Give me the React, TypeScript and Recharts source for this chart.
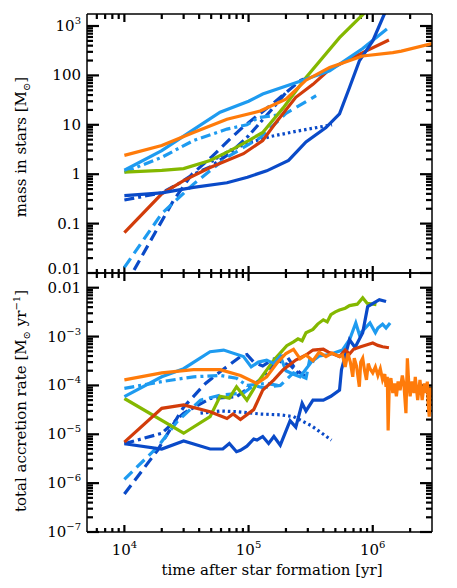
import React from "react";
import { LineChart, Line, XAxis, YAxis, ReferenceLine } from "recharts";

type Pair = [number, number];

// colours of the runs
const darkBlue = "#0a4ac8";
const lightBlue = "#1e9bf0";
const green = "#84b800";
const red = "#d23c0a";
const orange = "#ff7b0a";

// ---- top panel: mass in stars [Msun] vs time [yr]
const orangeMass: Pair[] = [[1e4, 2.4], [2e4, 3.8], [3.6e4, 7], [6.7e4, 13], [1.24e5, 19], [2e5, 33], [2.9e5, 80], [4.5e5, 145], [8.3e5, 247], [1.45e6, 290], [1.7e6, 310], [3e6, 440]];
const lightBlueMass: Pair[] = [[1e4, 1.2], [2e4, 3], [3.6e4, 8], [5.9e4, 18], [1e5, 30], [1.3e5, 42], [2.4e5, 71], [4.5e5, 124], [8.3e5, 350], [1.3e6, 870]];
const greenMass: Pair[] = [[1e4, 1.1], [2e4, 1.2], [3e4, 1.3], [4.9e4, 1.9], [7.1e4, 3], [1e5, 4.8], [1.3e5, 7], [1.9e5, 22], [2.9e5, 91], [5.4e5, 580], [8.5e5, 1800], [9e5, 2200]];
const redMass: Pair[] = [[1e4, 0.066], [2e4, 0.4], [3e4, 0.74], [4.9e4, 1.37], [9.1e4, 2.6], [1.3e5, 4.8], [1.7e5, 12], [2.4e5, 36], [3.3e5, 66], [4.5e5, 133], [8.3e5, 290], [1.35e6, 520]];
const darkBlueMass: Pair[] = [[1e4, 0.37], [2e4, 0.42], [3.6e4, 0.54], [6.7e4, 0.67], [9.8e4, 0.87], [1.4e5, 1.17], [2.1e5, 1.9], [2.9e5, 4.5], [4.2e5, 8.8], [5.4e5, 16.7], [6.5e5, 57], [7.8e5, 196], [1e6, 500], [1.24e6, 1750], [1.3e6, 2200]];
const darkBlueDashedMass: Pair[] = [[1e4, 0.006], [1.17e4, 0.0104], [1.74e4, 0.061], [2.5e4, 0.3], [3.5e4, 1.0], [5e4, 2.2], [7e4, 5], [9e4, 9], [1.6e5, 28], [2.6e5, 78], [2.8e5, 85]];
const darkBlueDashDotMass: Pair[] = [[1e4, 0.3], [2e4, 0.42], [2.7e4, 0.63], [3.6e4, 1.0], [4.9e4, 1.4], [7e4, 2.6], [1e5, 6], [1.5e5, 19], [2e5, 45]];
const darkBlueDottedMass: Pair[] = [[5e4, 1.8], [7e4, 3], [1e5, 4.3], [1.5e5, 5.8], [2.5e5, 7.5], [4.7e5, 10]];
const lightBlueDashedMass: Pair[] = [[1e4, 0.013], [2e4, 0.16], [3.6e4, 0.63], [6.7e4, 2.2], [1.24e5, 5.5], [2e5, 17], [3.5e5, 39]];
const lightBlueDashDotMass: Pair[] = [[1e4, 1.1], [2e4, 2.2], [3.6e4, 4.8], [6.7e4, 8.2], [9.7e4, 10], [1.2e5, 14], [1.8e5, 16]];

// ---- bottom panel: total accretion rate [Msun/yr] vs time [yr]
const orangeRate: Pair[] = [[1e4, 1.3e-4], [2e4, 1.8e-4], [3.6e4, 2.1e-4], [5.9e4, 2.1e-4], [8.6e4, 1.6e-4], [1.17e5, 1.1e-4], [1.4e5, 1.5e-4], [1.7e5, 2.9e-4], [2e5, 4.5e-4], [2.3e5, 5.5e-4], [2.6e5, 3.5e-4], [2.9e5, 4.2e-4], [3.3e5, 3.2e-4], [3.7e5, 4.8e-4], [4.2e5, 3.9e-4], [4.7e5, 4.6e-4], [5.4e5, 3.9e-4], [5.7e5, 4.2e-4], [6e5, 2.4e-4], [6.3e5, 4.5e-4], [6.6e5, 3e-4], [6.9e5, 1.5e-4], [7.1e5, 3.6e-4], [7.4e5, 2.5e-4], [7.8e5, 9.4e-5], [8e5, 3e-4], [8.3e5, 3.6e-4], [8.6e5, 2e-4], [8.9e5, 1.3e-4], [9.2e5, 2.8e-4], [9.5e5, 2.2e-4], [1e6, 1.8e-4], [1.05e6, 2.4e-4], [1.1e6, 1.6e-4], [1.15e6, 2.2e-4], [1.2e6, 1.3e-4], [1.25e6, 1.7e-4], [1.28e6, 9.4e-5], [1.31e6, 1.5e-4], [1.33e6, 1.2e-5], [1.36e6, 1.1e-4], [1.4e6, 1.4e-4], [1.45e6, 7e-5], [1.5e6, 1.1e-4], [1.55e6, 6e-5], [1.6e6, 1.2e-4], [1.66e6, 8e-5], [1.73e6, 1.6e-4], [1.78e6, 1.1e-4], [1.85e6, 2.7e-5], [1.9e6, 3.6e-4], [1.95e6, 1.1e-4], [2e6, 6e-5], [2.07e6, 1.2e-4], [2.15e6, 7e-5], [2.2e6, 1.5e-4], [2.3e6, 5e-5], [2.4e6, 1.3e-4], [2.5e6, 5e-5], [2.6e6, 1.1e-4], [2.7e6, 7e-5], [2.75e6, 1.2e-4], [2.8e6, 4e-5], [2.85e6, 2.3e-5], [2.92e6, 9e-5], [3e6, 6.3e-5]];
const lightBlueRate: Pair[] = [[1e4, 5.9e-5], [2e4, 1.5e-4], [3e4, 2.2e-4], [4.9e4, 4.9e-4], [6.3e4, 5.3e-4], [9.1e4, 3.9e-4], [1.05e5, 2.4e-4], [1.2e5, 3e-4], [1.4e5, 3.3e-4], [1.6e5, 2.8e-4], [1.8e5, 4e-4], [2e5, 2e-4], [2.3e5, 1.7e-4], [2.6e5, 1.5e-4], [3.2e5, 3e-4], [3.7e5, 4e-4], [4.5e5, 4.3e-4], [5.7e5, 5.3e-4], [6.5e5, 8.6e-4], [7.3e5, 1.9e-3], [7.8e5, 1.1e-3], [8.5e5, 1.4e-3], [9.5e5, 1.9e-3], [1.05e6, 1.2e-3], [1.1e6, 1.5e-3], [1.2e6, 1.8e-3], [1.28e6, 1.5e-3], [1.38e6, 1.9e-3]];
const greenRate: Pair[] = [[1e4, 5.4e-5], [3e4, 1.05e-5], [4.9e4, 2.3e-5], [5.9e4, 6e-5], [7e4, 5.5e-5], [8e4, 9.4e-5], [9.7e4, 5e-5], [1.17e5, 1.1e-4], [1.6e5, 3.3e-4], [2.03e5, 6.5e-4], [2.3e5, 7.8e-4], [2.5e5, 9e-4], [2.7e5, 8.2e-4], [2.9e5, 1.2e-3], [3.3e5, 1.4e-3], [3.6e5, 1.8e-3], [4e5, 2.2e-3], [4.3e5, 2e-3], [4.6e5, 2.8e-3], [5e5, 3.2e-3], [5.4e5, 3.5e-3], [6e5, 3.8e-3], [6.5e5, 4.3e-3], [7.5e5, 4.6e-3], [8.3e5, 6.2e-3], [9e5, 4.8e-3], [1.07e6, 4.5e-3]];
const redRate: Pair[] = [[1e4, 6.9e-6], [2e4, 3.4e-5], [3e4, 4e-5], [4.9e4, 2.9e-5], [6.7e4, 2.1e-5], [7.5e4, 2.6e-5], [8.6e4, 2e-5], [1.1e5, 3.2e-5], [1.3e5, 8e-5], [1.6e5, 1.3e-4], [1.9e5, 2.1e-4], [2.4e5, 3.3e-4], [2.9e5, 4.2e-4], [3.3e5, 5.3e-4], [4e5, 5.5e-4], [4.4e5, 4.8e-4], [4.7e5, 4.5e-4], [5.4e5, 3.9e-4], [6e5, 5.3e-4], [6.5e5, 4.4e-4], [7e5, 5.5e-4], [8e5, 6.2e-4], [9e5, 6.8e-4], [1e6, 7.4e-4], [1.1e6, 6.6e-4], [1.2e6, 6.2e-4], [1.35e6, 5.9e-4]];
const darkBlueRate: Pair[] = [[1e4, 6.4e-6], [2e4, 5e-6], [3e4, 7.3e-6], [4.9e4, 5e-6], [6.2e4, 5e-6], [7e4, 6.5e-6], [8e4, 4.4e-6], [8.6e4, 4.7e-6], [9.7e4, 5.7e-6], [1.1e5, 8e-6], [1.17e5, 7.6e-6], [1.3e5, 9e-6], [1.45e5, 6.5e-6], [1.6e5, 9e-6], [1.8e5, 6e-6], [2.16e5, 1.9e-5], [2.4e5, 1.4e-5], [2.7e5, 4.3e-5], [2.9e5, 3e-5], [3.3e5, 5e-5], [4e5, 5e-5], [4.6e5, 6e-5], [5.4e5, 8e-5], [5.6e5, 2.1e-4], [6.5e5, 8.6e-4], [7.2e5, 6e-4], [8.3e5, 1.2e-3], [9.1e5, 4.1e-3], [1.13e6, 5.7e-3], [1.28e6, 5.2e-3]];
const darkBlueDashedRate: Pair[] = [[1e4, 6e-7], [1.85e4, 4.7e-6], [3e4, 3.6e-5], [4.5e4, 1.1e-4], [5.9e4, 1.9e-4], [8.6e4, 3.9e-4], [9.7e4, 4.3e-4], [1.1e5, 3e-4], [1.3e5, 2.5e-4], [1.6e5, 3.5e-4], [2e5, 4.2e-4], [2.4e5, 2.1e-4], [2.9e5, 1.5e-4]];
const darkBlueDashDotRate: Pair[] = [[1e4, 6.4e-6], [2e4, 1.05e-5], [3e4, 2.7e-5], [4.9e4, 5.4e-5], [8e4, 5.9e-5], [1.24e5, 1.3e-4], [1.7e5, 3.3e-4], [2.2e5, 2.5e-4], [2.6e5, 1.6e-4]];
const darkBlueDottedRate: Pair[] = [[4.1e4, 2.7e-5], [6e4, 3e-5], [8e4, 2.9e-5], [1.24e5, 2.6e-5], [1.8e5, 2.5e-5], [2.3e5, 2.3e-5], [3.2e5, 1.5e-5], [4.65e5, 7.6e-6]];
const lightBlueDashedRate: Pair[] = [[1e4, 1.2e-6], [1.85e4, 5.5e-6], [2.7e4, 1.9e-5], [4.1e4, 5e-5], [5.9e4, 6.3e-5], [9.1e4, 7e-5], [1.1e5, 1e-4], [1.3e5, 9e-5], [1.8e5, 1e-4], [2.3e5, 1.8e-4], [2.9e5, 1.4e-4], [3.1e5, 3.3e-4], [3.5e5, 3e-4]];
const lightBlueDashDotRate: Pair[] = [[1e4, 8.7e-5], [2e4, 1.2e-4], [3.6e4, 1.5e-4], [5.9e4, 1.6e-4], [8e4, 1.4e-4], [9.7e4, 1e-4], [1.4e5, 1.1e-4], [1.8e5, 9.8e-5]];

const xDomain = [5e3, 3e6];
const massDomain = [0.01, 1750];
const rateDomain = [1e-7, 0.02];

// plot box size in px (same for both panels)
const PLOT_W = 345;
const PLOT_H = 259;

// log axis ticks: decades plus the 2..9 minor marks
const logTicks = (lo: number, hi: number) => {
  const out: number[] = [];
  for (let e = Math.floor(Math.log10(lo)); e <= Math.ceil(Math.log10(hi)); e++) {
    for (let m = 1; m < 10; m++) {
      const v = Number((m * Math.pow(10, e)).toPrecision(6));
      if (v >= lo && v < hi) out.push(v);
    }
  }
  return out;
};
const isMajor = (v: number) => Math.abs(Math.log10(v) - Math.round(Math.log10(v))) < 1e-6;

const xTicks = logTicks(xDomain[0], xDomain[1]).filter((v) => v > xDomain[0]);
const massTicks = logTicks(massDomain[0], massDomain[1]);
const rateTicks = logTicks(rateDomain[0], rateDomain[1]);

const pts = (a: Pair[]) => a.map(([t, v]) => ({ t, v }));

const FONT = "DejaVu Serif";

const pow10 = (e: number) => (
  <>
    <tspan>10</tspan>
    <tspan dy={-7} fontSize={10}>{e < 0 ? "\u2212" + -e : String(e)}</tspan>
  </>
);

const massLabel = (v: number) => (v >= 1000 ? pow10(3) : String(v));
const rateLabel = (v: number) => (v >= 0.01 ? "0.01" : pow10(Math.round(Math.log10(v))));

const leftLabel = (fmt: (v: number) => React.ReactNode, lowShift: number, low: number) => (p: any) => {
  const v = p.payload.value;
  if (!isMajor(v)) return <g />;
  return (
    <text x={p.x - 6} y={p.y + 5 + (v === low ? lowShift : 0)} textAnchor="end" fontFamily={FONT} fontSize={15} fill="#000">
      {fmt(v)}
    </text>
  );
};

const bottomLabel = (p: any) => {
  const v = p.payload.value;
  if (!isMajor(v)) return <g />;
  return (
    <text x={p.x} y={p.y + 23} textAnchor="middle" fontFamily={FONT} fontSize={15} fill="#000">
      {pow10(Math.round(Math.log10(v)))}
    </text>
  );
};

const noLabel = () => <g />;

// inward tick marks as short reference segments: a length in px becomes a factor on the log axis
const stepX = (px: number) => Math.pow(10, (px / PLOT_W) * Math.log10(xDomain[1] / xDomain[0]));
const stepY = (px: number, d: number[]) => Math.pow(10, (px / PLOT_H) * Math.log10(d[1] / d[0]));

const tickMarks = (domain: number[], yt: number[]) => {
  const out: React.ReactNode[] = [];
  const seg = (key: string, a: { x: number; y: number }, b: { x: number; y: number }) =>
    out.push(
      <ReferenceLine key={key} xAxisId="b" yAxisId="l" segment={[a, b]} stroke="#000" strokeWidth={2.2} ifOverflow="visible" />
    );
  yt.forEach((v) => {
    const k = stepX(isMajor(v) ? 12 : 6);
    seg("l" + v, { x: xDomain[0], y: v }, { x: xDomain[0] * k, y: v });
    seg("r" + v, { x: xDomain[1] / k, y: v }, { x: xDomain[1], y: v });
  });
  xTicks.forEach((t) => {
    const kb = stepY(isMajor(t) ? 7 : 4, domain);
    const kt = stepY(isMajor(t) ? 8 : 5, domain);
    seg("b" + t, { x: t, y: domain[0] }, { x: t, y: domain[0] * kb });
    seg("t" + t, { x: t, y: domain[1] / kt }, { x: t, y: domain[1] });
  });
  return out;
};

type Run = { data: Pair[]; color: string; dash?: string };

const DASH = "11 6";
const DASHDOT = "10 4 3 4";
const DOT = "2.5 3";

const massRuns: Run[] = [
  { data: darkBlueDottedMass, color: darkBlue, dash: DOT },
  { data: darkBlueDashDotMass, color: darkBlue, dash: DASHDOT },
  { data: darkBlueDashedMass, color: darkBlue, dash: DASH },
  { data: lightBlueDashDotMass, color: lightBlue, dash: DASHDOT },
  { data: lightBlueDashedMass, color: lightBlue, dash: DASH },
  { data: greenMass, color: green },
  { data: redMass, color: red },
  { data: lightBlueMass, color: lightBlue },
  { data: darkBlueMass, color: darkBlue },
  { data: orangeMass, color: orange },
];

const rateRuns: Run[] = [
  { data: darkBlueDottedRate, color: darkBlue, dash: DOT },
  { data: darkBlueDashDotRate, color: darkBlue, dash: DASHDOT },
  { data: darkBlueDashedRate, color: darkBlue, dash: DASH },
  { data: lightBlueDashDotRate, color: lightBlue, dash: DASHDOT },
  { data: lightBlueDashedRate, color: lightBlue, dash: DASH },
  { data: greenRate, color: green },
  { data: lightBlueRate, color: lightBlue },
  { data: darkBlueRate, color: darkBlue },
  { data: redRate, color: red },
  { data: orangeRate, color: orange },
];

const frame = { stroke: "#000", strokeWidth: 1.5 };

const panelAxes = (domain: number[], ticks: number[], fmt: (v: number) => React.ReactNode, bottomHeight: number, bottomLabels: boolean, lowShift: number) => {
  const common = { type: "number" as const, scale: "log" as const, allowDataOverflow: true, interval: 0 as const, tickMargin: 0, tickSize: 0, tickLine: false, axisLine: frame };
  return [
    <XAxis key="xb" xAxisId="b" dataKey="t" {...common} domain={xDomain} ticks={xTicks} height={bottomHeight} tick={bottomLabels ? bottomLabel : noLabel} />,
    <XAxis key="xt" xAxisId="t" orientation="top" {...common} domain={xDomain} ticks={xTicks} height={1} tick={noLabel} />,
    <YAxis key="yl" yAxisId="l" dataKey="v" {...common} domain={domain} ticks={ticks} width={87} tick={leftLabel(fmt, lowShift, domain[0])} />,
    <YAxis key="yr" yAxisId="r" orientation="right" {...common} domain={domain} ticks={ticks} width={1} tick={noLabel} />,
  ];
};

const runLines = (runs: Run[]) =>
  runs.map((r, i) => (
    <Line
      key={"run" + i}
      xAxisId="b"
      yAxisId="l"
      data={pts(r.data)}
      dataKey="v"
      type="linear"
      stroke={r.color}
      strokeWidth={3.2}
      strokeDasharray={r.dash}
      dot={false}
      activeDot={false}
      isAnimationActive={false}
    />
  ));

const titleStyle: React.CSSProperties = {
  position: "absolute",
  fontFamily: FONT,
  fontSize: 15,
  lineHeight: "15px",
  whiteSpace: "nowrap",
  color: "#000",
};
const small = (dy: number, s: string) => (
  <span style={{ fontSize: 10, position: "relative", top: dy }}>{s}</span>
);

export default function App() {
  return (
    <div style={{ position: "absolute", left: 0, top: 0, width: 457, height: 588, background: "#fff" }}>
      <div style={{ ...titleStyle, left: 22, top: 147, transform: "translate(-50%, -50%) rotate(-90deg)" }}>
        mass in stars [M{small(4, "\u2299")}]
      </div>
      <div style={{ ...titleStyle, left: 22, top: 401, transform: "translate(-50%, -50%) rotate(-90deg)" }}>
        total accretion rate [M{small(4, "\u2299")} yr{small(-6, "\u22121")}]
      </div>
      <div style={{ ...titleStyle, left: 272, top: 563, transform: "translateX(-50%)" }}>time after star formation [yr]</div>
      <div style={{ position: "absolute", left: 0, top: 0 }}>
        <LineChart width={457} height={292} margin={{ top: 13, right: 24, left: 0, bottom: 18 }}>
          {panelAxes(massDomain, massTicks, massLabel, 1, false, -4)}
          {tickMarks(massDomain, massTicks)}
          {runLines(massRuns)}
        </LineChart>
      </div>
      <div style={{ position: "absolute", left: 0, top: 272 }}>
        <LineChart width={457} height={316} margin={{ top: 0, right: 24, left: 0, bottom: 0 }}>
          {panelAxes(rateDomain, rateTicks, rateLabel, 56, true, 0)}
          {tickMarks(rateDomain, rateTicks)}
          {runLines(rateRuns)}
        </LineChart>
      </div>
    </div>
  );
}
